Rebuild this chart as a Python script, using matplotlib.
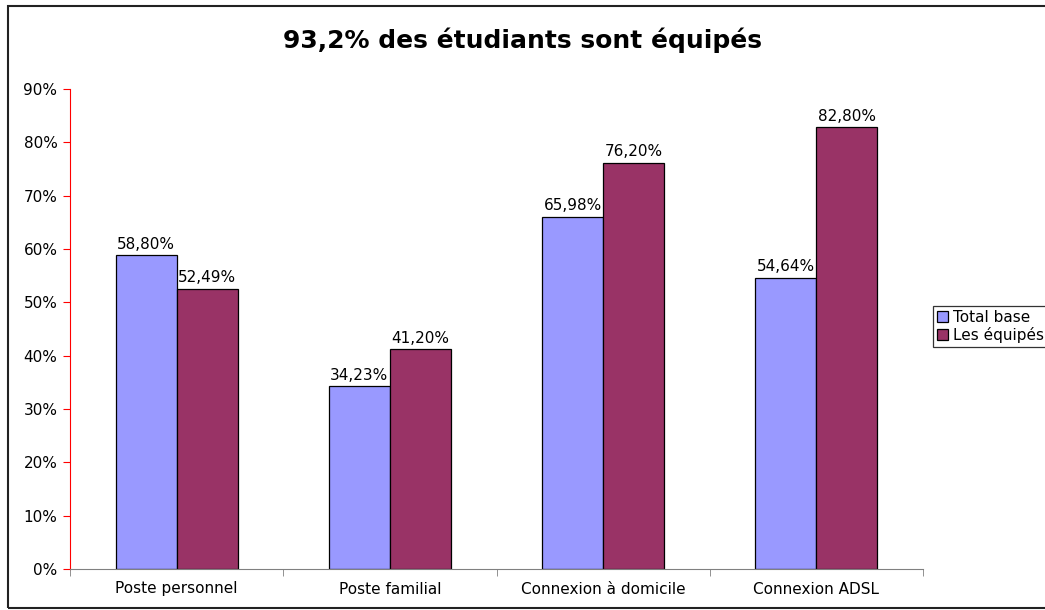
import numpy as np
import matplotlib
matplotlib.use("Agg")
import matplotlib.pyplot as plt
from matplotlib.patches import Rectangle

categories = ["Poste personnel", "Poste familial", "Connexion à domicile", "Connexion ADSL"]
total_base = [58.80, 34.23, 65.98, 54.64]
les_equipes = [52.49, 41.20, 76.20, 82.80]
series_names = ["Total base", "Les équipés"]
yticks = [0, 10, 20, 30, 40, 50, 60, 70, 80, 90]

plt.rcParams['font.family'] = ['DejaVu Sans']
fs = 11

fig = plt.figure(figsize=(10.45, 6.10), dpi=100)
ax = fig.add_axes([70 / 1045, 1 - 569 / 610, (923 - 70) / 1045, (569 - 89) / 610])

# outer chart border
fig.patches.append(Rectangle((8 / 1045, 2 / 610), 1.2, 1 - 8 / 610, transform=fig.transFigure,
                             fill=False, edgecolor='#222222', linewidth=1.5, clip_on=False))

x = np.arange(len(categories))
w = 1 / 3.5
b1 = ax.bar(x - w / 2, total_base, w, color='#9999FF', edgecolor='black', linewidth=0.9,
            label=series_names[0])
b2 = ax.bar(x + w / 2, les_equipes, w, color='#993366', edgecolor='black', linewidth=0.9,
            label=series_names[1])

for bars, vals in [(b1, total_base), (b2, les_equipes)]:
    for rect, v in zip(bars, vals):
        ax.text(rect.get_x() + rect.get_width() / 2, v + 0.7,
                ("%.2f%%" % v).replace('.', ','), ha='center', va='bottom', fontsize=fs)

ax.set_xlim(-0.5, len(categories) - 0.5)
ax.set_ylim(0, 90)
ax.set_yticks(yticks)
ax.set_yticklabels(["%d%%" % t for t in yticks], fontsize=fs)
ax.set_xticks(x)
ax.set_xticklabels(categories, fontsize=fs)
ax.tick_params(axis='x', length=0, pad=9)
ax.set_xticks(np.arange(len(categories) + 1) - 0.5, minor=True)
ax.tick_params(axis='x', which='minor', length=5, color='#808080', direction='out')
ax.tick_params(axis='y', length=5, color='red', direction='out', pad=4)

for s in ['top', 'right']:
    ax.spines[s].set_visible(False)
ax.spines['left'].set_color('red')
ax.spines['bottom'].set_color('#808080')

fig.text(0.5, 1 - 40 / 610, "93,2% des étudiants sont équipés", ha='center', va='center',
         fontsize=18, fontweight='bold')

leg = fig.legend(loc='upper left', bbox_to_anchor=(933 / 1045, 1 - 306 / 610), fontsize=fs,
                 frameon=True, fancybox=False, edgecolor='black', handlelength=0.75,
                 handleheight=0.75, handletextpad=0.3, borderpad=0.25, labelspacing=0.15,
                 borderaxespad=0)
leg.get_frame().set_linewidth(0.9)

fig.savefig("out.png", dpi=100)
